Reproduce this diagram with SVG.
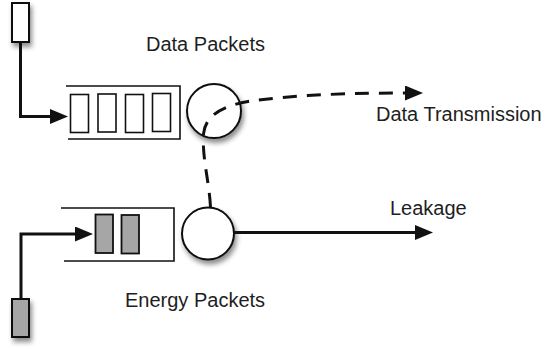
<svg xmlns="http://www.w3.org/2000/svg" width="545" height="349" viewBox="0 0 545 349">
  <style>
    .label { font-family: "Liberation Sans", Arial, sans-serif; font-size: 20px; fill: #1e1e1e; }
    .queue { fill: none; stroke: #111; stroke-width: 1.6; }
    .pkt { fill: #fff; stroke: #111; stroke-width: 1.6; }
    .pkt-e { fill: #a6a6a6; stroke: #111; stroke-width: 1.8; }
    .src { stroke: #111; stroke-width: 2; }
    .server { fill: #fff; stroke: #111; stroke-width: 2; }
    .wire { fill: none; stroke: #111; stroke-width: 3; }
    .dash { stroke-dasharray: 14 10; }
  </style>
  <defs>
    <filter id="shadow" x="-50%" y="-50%" width="200%" height="200%">
      <feDropShadow dx="2" dy="4" stdDeviation="2.5" flood-color="#000" flood-opacity="0.45"/>
    </filter>
    <marker id="head" markerUnits="userSpaceOnUse" markerWidth="20" markerHeight="16" refX="2" refY="7.5" orient="auto">
      <path d="M0,0 L18,7.5 L0,15 z" fill="#111"/>
    </marker>
  </defs>

  <!-- data source -->
  <g id="data-source">
    <rect class="src" x="12" y="3" width="17" height="39" fill="#fff" filter="url(#shadow)"/>
  </g>

  <!-- data queue -->
  <g id="data-queue">
    <path class="queue" d="M66,86 H180 V139 H68"/>
    <rect class="pkt" x="70.5" y="94.5" width="18" height="38"/>
    <rect class="pkt" x="98" y="94" width="18" height="38"/>
    <rect class="pkt" x="125.5" y="94.5" width="18" height="38"/>
    <rect class="pkt" x="152.5" y="93.5" width="18" height="38"/>
  </g>

  <!-- energy source -->
  <g id="energy-source">
    <rect class="src" x="12" y="299" width="17" height="38" fill="#a6a6a6" filter="url(#shadow)"/>
  </g>

  <!-- energy queue -->
  <g id="energy-queue">
    <path class="queue" d="M61,208 H174 V261 H64"/>
    <rect class="pkt-e" x="95.5" y="214.5" width="17.5" height="38.5"/>
    <rect class="pkt-e" x="121.5" y="215" width="17.5" height="38.5"/>
  </g>

  <!-- servers -->
  <g id="data-server">
    <circle class="server" cx="214" cy="111" r="27" filter="url(#shadow)"/>
  </g>
  <g id="energy-server">
    <circle class="server" cx="208" cy="233.5" r="26" filter="url(#shadow)"/>
  </g>

  <!-- connectors -->
  <g id="connectors">
    <path class="wire" d="M20.5,42 V116.5 H52" marker-end="url(#head)"/>
    <path class="wire" d="M21,299 V234 H77" marker-end="url(#head)"/>
    <path class="wire" d="M234,232.5 H417" marker-end="url(#head)"/>
    <path class="wire dash" d="M210.5,207 C209,180 202,158 203.5,134 C205,116 222,106 248,101.5 C300,94 360,93 407,93" marker-end="url(#head)"/>
  </g>

  <!-- labels -->
  <g id="labels">
    <text class="label" x="146" y="51">Data Packets</text>
    <text class="label" x="376" y="121">Data Transmission</text>
    <text class="label" x="390" y="215">Leakage</text>
    <text class="label" x="125" y="307">Energy Packets</text>
  </g>
</svg>
